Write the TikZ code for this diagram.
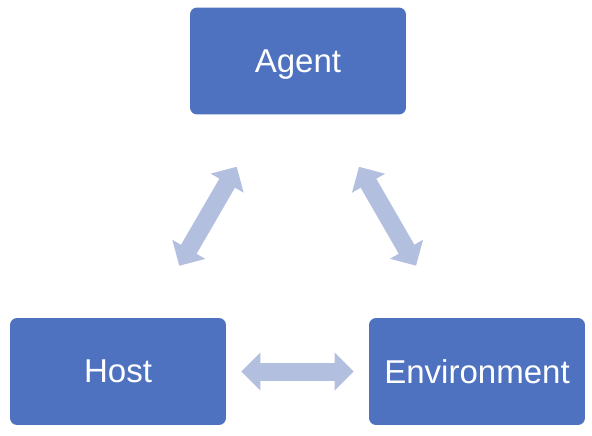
\documentclass[tikz,border=0pt]{standalone}
\usepackage{fontspec}
\setmainfont{Liberation Sans}
\usetikzlibrary{arrows.meta}
\definecolor{boxblue}{HTML}{4F72C0}
\definecolor{linkblue}{HTML}{B3BFDE}
\begin{document}
\begin{tikzpicture}[x=0.02cm,y=-0.02cm,
    box/.style={fill=boxblue,rounded corners=0.14cm,minimum width=4.32cm,minimum height=2.14cm,text depth=0pt,text=white,font=\fontsize{18.8}{22}\selectfont},
    link/.style={draw=linkblue,line width=0.36cm,{Triangle[width=0.74cm,length=0.38cm]}-{Triangle[width=0.74cm,length=0.38cm]}}]
    \useasboundingbox (0,0) rectangle (592,436);
    \node[box] (agent) at (298,61) {Agent};
    \node[box] (host) at (118,371.5) {Host};
    \node[box] (env) at (477,371.5) {Environment};
    
    \draw[link,shorten <=1.2cm,shorten >=1.2cm] (agent) -- (host);
    \draw[link,shorten <=1.2cm,shorten >=1.2cm] (agent) -- (env);
    \draw[link,shorten <=0.3cm,shorten >=0.3cm] (host) -- (env);
\end{tikzpicture}
\end{document}
